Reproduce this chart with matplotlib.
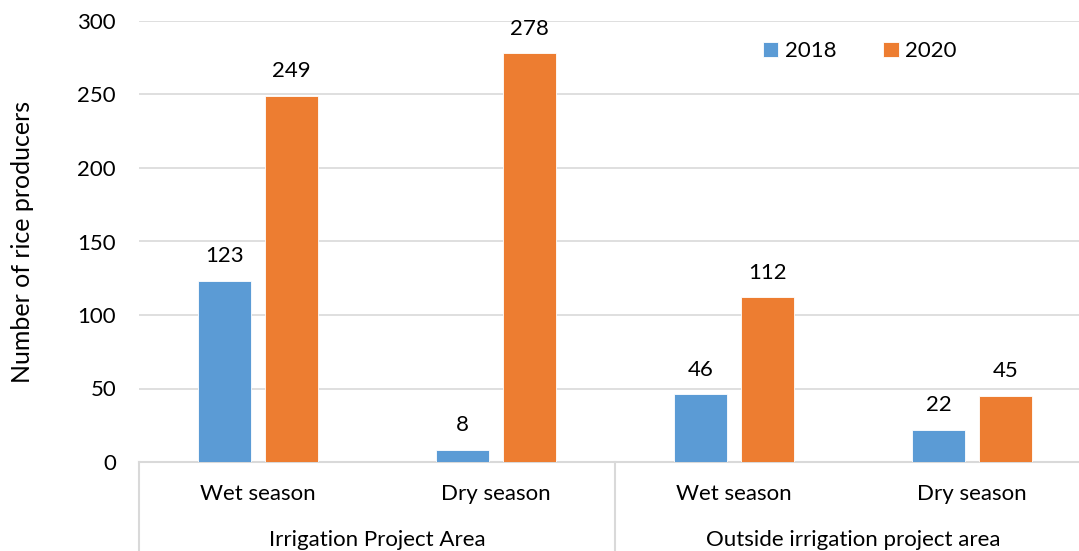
import matplotlib
matplotlib.use("Agg")
import matplotlib.pyplot as plt
import numpy as np

plt.rcParams['font.family'] = ['Lato', 'DejaVu Sans']

seasons = ["Wet season", "Dry season", "Wet season", "Dry season"]
areas = ["Irrigation Project Area", "Outside irrigation project area"]
years = ["2018", "2020"]
values_2018 = [123, 8, 46, 22]
values_2020 = [249, 278, 112, 45]
yticks = [0, 50, 100, 150, 200, 250, 300]

colors = ["#5B9BD5", "#ED7D31"]
grid_c = "#D9D9D9"

W, H = 1079, 551
fig = plt.figure(figsize=(W / 100, H / 100), dpi=100)
left_px, right_px, top_px, bot_px = 139, 1091, 21, 462
ax = fig.add_axes([left_px / W, (H - bot_px) / H, (right_px - left_px) / W, (bot_px - top_px) / H])

x = np.arange(len(seasons))
bw = 0.223
off = 0.141
fs = 16
for vals, c, o, lab in [(values_2018, colors[0], -off, years[0]), (values_2020, colors[1], off, years[1])]:
    ax.bar(x + o, vals, width=bw, color=c, edgecolor="white", linewidth=0.6, label=lab, zorder=3)
    for xi, v in zip(x + o, vals):
        ax.annotate(str(v), (xi, v), xytext=(0, 13.5), textcoords="offset points",
                    ha="center", va="baseline", fontsize=fs, color="black")

ax.set_xlim(-0.5, len(seasons) - 0.5)
ax.set_ylim(0, 300)
ax.set_yticks(yticks)
ax.set_yticklabels([str(t) for t in yticks], fontsize=fs)
ax.tick_params(axis='y', length=0, pad=16.5)
ax.set_xticks([])
for s in ["left", "right", "top"]:
    ax.spines[s].set_visible(False)
ax.spines["bottom"].set_color(grid_c)
ax.spines["bottom"].set_linewidth(1.5)
ax.yaxis.grid(True, color=grid_c, linewidth=1.2, zorder=0)
ax.set_axisbelow(True)

ax.set_ylabel("Number of rice producers", fontsize=18, va="center", ha="center")
ax.yaxis.set_label_coords(-(left_px - 23) / (right_px - left_px), 0.5)

tr = ax.get_xaxis_transform()
for xi, s in zip(x, seasons):
    ax.text(xi, -(494 - bot_px) / (bot_px - top_px), s, transform=tr, ha="center", va="center",
            fontsize=fs, clip_on=False)
for i, a in enumerate(areas):
    ax.text(2 * i + 0.5, -(540 - bot_px) / (bot_px - top_px), a, transform=tr, ha="center", va="center",
            fontsize=fs, clip_on=False)
for xv in [-0.5, 1.5, 3.5]:
    ax.plot([xv, xv], [0, -0.25], transform=tr, color=grid_c, linewidth=1.5, clip_on=False)

fig.legend(loc="center", bbox_to_anchor=(860 / W, 1 - 51 / H), ncol=2, frameon=False,
           fontsize=fs, handlelength=0.68, handleheight=0.68, handletextpad=0.3,
           columnspacing=2.1)

fig.savefig("out.png", dpi=100)
